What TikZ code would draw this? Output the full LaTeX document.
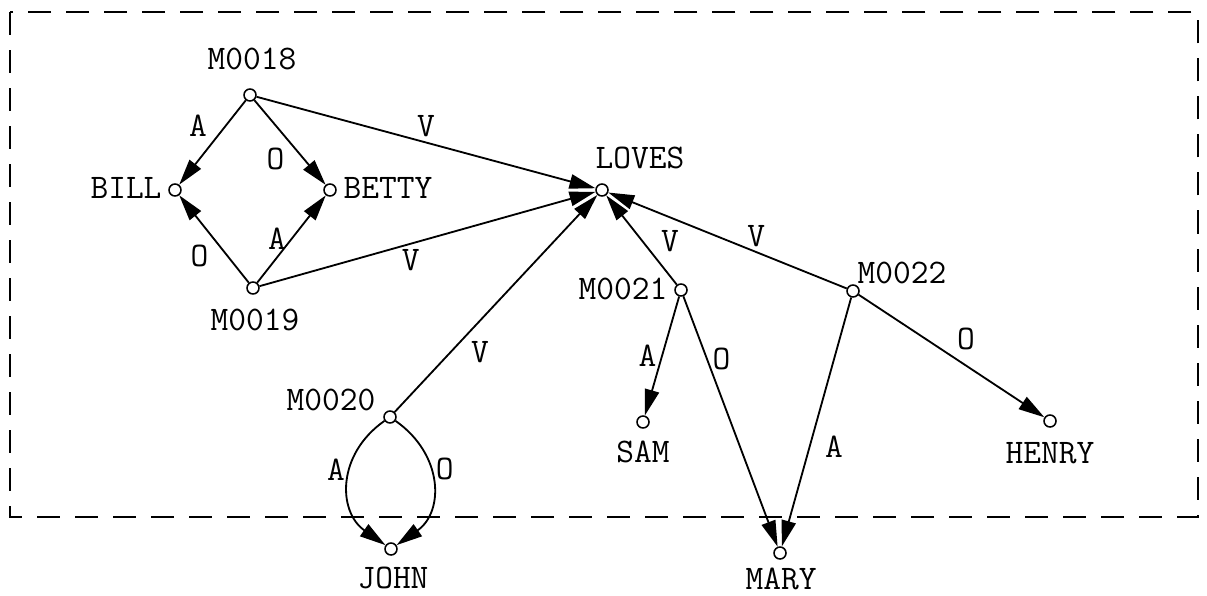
\documentclass[tikz,border=0pt]{standalone}
\usepackage{fontspec}
\usetikzlibrary{arrows.meta}

\begin{document}
\begin{tikzpicture}[
  x=0.025cm,y=0.025cm,
  font=\ttfamily\fontsize{24.5}{28}\selectfont,
  concept/.style={circle,draw,fill=white,minimum size=0.3cm,inner sep=0pt,line width=1.1pt},
  word/.style={inner sep=0pt},
  arc/.style={-{Triangle[length=0.65cm,width=0.36cm]},line width=1.3pt},
  frame/.style={line width=1.4pt,dash pattern=on 0.575cm off 0.375cm}
]
  \useasboundingbox (0,0) rectangle (1207,595);
  \draw[frame] (10,583) rectangle (1198,78);
  \node[concept] (m18) at (250,500) {};
  \node[concept] (bill) at (175,405) {};
  \node[concept] (betty) at (330,405) {};
  \node[concept] (m19) at (253,307) {};
  \node[concept] (loves) at (602,405) {};
  \node[concept] (m20) at (390,178) {};
  \node[concept] (john) at (391,46) {};
  \node[concept] (m21) at (681,305) {};
  \node[concept] (sam) at (643,173) {};
  \node[concept] (mary) at (780,42) {};
  \node[concept] (m22) at (853,304) {};
  \node[concept] (henry) at (1050,174) {};
  \node[word] (m18-t) at (252,536) {M0018};
  \node[word] (bill-t) at (126,407) {BILL};
  \node[word] (betty-t) at (388,407) {BETTY};
  \node[word] (m19-t) at (255,275) {M0019};
  \node[word] (loves-t) at (640,437) {LOVES};
  \node[word] (m20-t) at (331,195) {M0020};
  \node[word] (john-t) at (393,17) {JOHN};
  \node[word] (m21-t) at (623,306) {M0021};
  \node[word] (sam-t) at (643,143) {SAM};
  \node[word] (mary-t) at (781,16) {MARY};
  \node[word] (m22-t) at (902,322) {M0022};
  \node[word] (henry-t) at (1050,142) {HENRY};
  \draw[arc] (m18) -- node[above left]{A} (bill);
  \draw[arc] (m18) -- node[below left]{O} (betty);
  \draw[arc] (m19) -- node[below left]{O} (bill);
  \draw[arc] (m19) -- node[left]{A} (betty);
  \draw[arc] (m18) -- node[above]{V} (loves);
  \draw[arc] (m19) -- node[pos=0.45,below]{V} (loves);
  \draw[arc] (m20) -- node[pos=0.35,below right]{V} (loves);
  \draw[arc] (m21) -- node[pos=0.3,above right]{V} (loves);
  \draw[arc] (m22) -- node[pos=0.38,above]{V} (loves);
  \draw[arc] (m20) to[out=215,in=145,looseness=1.2] node[pos=0.4,left]{A} (john);
  \draw[arc] (m20) to[out=-35,in=35,looseness=1.2] node[pos=0.4,right]{O} (john);
  \draw[arc] (m21) -- node[left]{A} (sam);
  \draw[arc] (m21) -- node[pos=0.25,right]{O} (mary);
  \draw[arc] (m22) -- node[pos=0.6,right,xshift=0.25cm]{A} (mary);
  \draw[arc] (m22) -- node[above right]{O} (henry);
\end{tikzpicture}
\end{document}
